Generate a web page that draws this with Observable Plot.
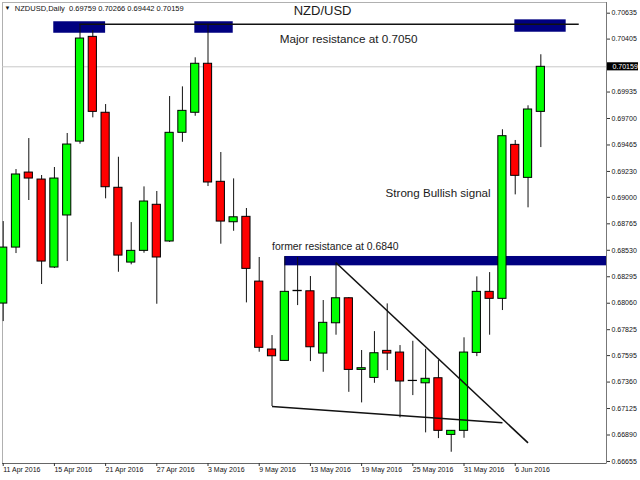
<!DOCTYPE html>
<html><head><meta charset="utf-8">
<script src="https://cdn.jsdelivr.net/npm/d3@7"></script>
<script src="https://cdn.jsdelivr.net/npm/@observablehq/plot@0.6"></script>
<style>body{margin:0;background:#fff;} svg{display:block}</style>
</head><body><div id="chart"></div>
<script>
// Trading days (daily candles)
const dates = ["2016-04-11","2016-04-12","2016-04-13","2016-04-14","2016-04-15",
  "2016-04-18","2016-04-19","2016-04-20","2016-04-21","2016-04-22",
  "2016-04-25","2016-04-26","2016-04-27","2016-04-28","2016-04-29",
  "2016-05-02","2016-05-03","2016-05-04","2016-05-05","2016-05-06",
  "2016-05-09","2016-05-10","2016-05-11","2016-05-12","2016-05-13",
  "2016-05-16","2016-05-17","2016-05-18","2016-05-19","2016-05-20",
  "2016-05-23","2016-05-24","2016-05-25","2016-05-26","2016-05-27",
  "2016-05-30","2016-05-31","2016-06-01","2016-06-02","2016-06-03",
  "2016-06-06","2016-06-07","2016-06-08"];
const opens  = [0.68057,0.68554,0.69220,0.69158,0.68377,0.68839,0.69495,0.70425,0.69751,0.69085,
  0.68421,0.68525,0.68934,0.68608,0.69573,0.69751,0.70186,0.69138,0.68779,0.68827,
  0.68252,0.67649,0.67548,0.68170,0.68166,0.67613,0.67882,0.68104,0.67468,0.67397,
  0.67637,0.67622,0.67371,0.67349,0.67394,0.66891,0.66927,0.67619,0.68161,0.68099,
  0.69466,0.69173,0.69759];
const highs  = [0.68785,0.69247,0.69522,0.69194,0.69265,0.69567,0.70535,0.70481,0.69824,0.69356,
  0.68776,0.69093,0.69052,0.69895,0.69981,0.70239,0.70537,0.69398,0.69164,0.68901,
  0.68466,0.67773,0.68472,0.68466,0.68297,0.68084,0.68419,0.68110,0.67640,0.67808,
  0.68054,0.67684,0.67722,0.67651,0.67551,0.66930,0.67753,0.68294,0.68332,0.69600,
  0.69505,0.69813,0.70266];
const lows   = [0.67897,0.68501,0.68972,0.68226,0.68368,0.68430,0.69472,0.69706,0.68987,0.68335,
  0.68401,0.68504,0.68051,0.68600,0.69489,0.69720,0.69096,0.68584,0.68699,0.68063,
  0.67625,0.67143,0.67545,0.68039,0.67542,0.67447,0.67776,0.67269,0.67175,0.67349,
  0.67462,0.67042,0.67240,0.66909,0.66858,0.66737,0.66861,0.67586,0.67776,0.67995,
  0.69022,0.68907,0.69442];
const closes = [0.68554,0.69203,0.69167,0.68430,0.69167,0.69469,0.70410,0.69759,0.69090,0.68483,
  0.68525,0.68963,0.68466,0.69573,0.69768,0.70186,0.69132,0.68785,0.68823,0.68365,
  0.67664,0.67589,0.68161,0.68167,0.67669,0.67886,0.68104,0.67468,0.67483,0.67616,
  0.67613,0.67365,0.67369,0.67389,0.66927,0.66927,0.67622,0.68161,0.68099,0.69543,
  0.69191,0.69780,0.70159];

// Axis ticks
const yTicks = [0.70635,0.70405,0.69935,0.69700,0.69465,0.69230,0.69000,0.68765,0.68530,
  0.68295,0.68060,0.67825,0.67595,0.67360,0.67125,0.66890,0.66655];
const xTickEvery = 4;

// Annotation levels (price / candle index anchors)
const majorResistance = {price: 0.70537, from: 6, to: 45};
const topZones = [
  {from: 3.95, to: 8.0, lo: 0.70457, hi: 0.70559},
  {from: 14.97, to: 17.97, lo: 0.70457, hi: 0.70559},
  {from: 39.97, to: 43.98, lo: 0.70466, hi: 0.70576}
];
const formerZone = {from: 22.0, lo: 0.68392, hi: 0.68475};
const trendLines = [
  {i1: 26, p1: 0.68419, i2: 41.0, p2: 0.66820, w: 1.6},
  {i1: 21, p1: 0.67143, i2: 39.0, p2: 0.66999, w: 1.3}
];
const title = {i: 24.95, p: 0.70659, text: "NZD/USD"};
const notes = [
  {i: 21.6, p: 0.70401, text: "Major resistance at 0.7050", size: 11.7},
  {i: 29.87, p: 0.69034, text: "Strong Bullish signal", size: 11.6},
  {i: 21.0, p: 0.68566, text: "former resistance at 0.6840", size: 10.4}
];
const symbolLabel = "NZDUSD,Daily";

const candles = dates.map((d, i) => ({i, date: new Date(d), o: opens[i], h: highs[i], l: lows[i], c: closes[i]}));
const upC = candles.filter(d => d.c >= d.o);
const downC = candles.filter(d => d.c < d.o);
const last = candles[candles.length - 1];
const fmtDate = d3.utcFormat("%-d %b %Y");
const xDomain = [-0.055, 47.13];
const yDomain = [0.66637, 0.70730];
const half = 0.32;
const ohlcText = [last.o, last.h, last.l, last.c].map(v => v.toFixed(5)).join(" ");

const bodyOpts = (fill) => ({
  x1: d => d.i - half, x2: d => d.i + half,
  y1: d => Math.min(d.o, d.c), y2: d => Math.max(d.o, d.c),
  fill, stroke: "#000", strokeWidth: 1
});

const chart = Plot.plot({
  width: 640, height: 480,
  marginLeft: 2, marginRight: 34, marginTop: 2, marginBottom: 17,
  x: {type: "linear", domain: xDomain, axis: null},
  y: {type: "linear", domain: yDomain, axis: null},
  style: {fontFamily: "'Liberation Sans', Arial, sans-serif", background: "#fff", overflow: "visible"},
  marks: [
    Plot.frame({stroke: "#b0b0b0"}),
    Plot.ruleY([last.c], {stroke: "#c8c8c8", strokeWidth: 1}),
    Plot.rect([formerZone], {x1: "from", x2: xDomain[1], y1: "lo", y2: "hi", fill: "#000080"}),
    Plot.rect(topZones, {x1: "from", x2: "to", y1: "lo", y2: "hi", fill: "#000080"}),
    Plot.ruleX(candles, {x: "i", y1: "l", y2: "h", stroke: "#111", strokeWidth: 1}),
    Plot.rect(upC, bodyOpts("#00ff00")),
    Plot.rect(downC, bodyOpts("#ff0000")),
    Plot.ruleY([majorResistance], {y: "price", x1: "from", x2: "to", stroke: "#111", strokeWidth: 1.6}),
    Plot.link(trendLines, {x1: "i1", y1: "p1", x2: "i2", y2: "p2", stroke: "#111", strokeWidth: d => d.w}),
    Plot.text(notes, {x: "i", y: "p", text: "text", fontSize: d => d.size, textAnchor: "start", fill: "#1a1a1a"}),
    Plot.text([title], {x: "i", y: "p", text: "text", fontSize: 13, textAnchor: "middle", fill: "#1a1a1a"}),
    Plot.text(["▼"], {frameAnchor: "top-left", dx: 5, dy: 6, fontSize: 6, textAnchor: "middle", lineAnchor: "middle", fill: "#111"}),
    Plot.text([symbolLabel + "  " + ohlcText], {frameAnchor: "top-left", dx: 12.3, dy: 6, fontSize: 7.5, textAnchor: "start", lineAnchor: "middle", fill: "#111"}),
    Plot.ruleY([yDomain[0]], {stroke: "#666"}),
    Plot.ruleX([xDomain[1]], {stroke: "#777"}),
    Plot.axisY({anchor: "right", ticks: yTicks, tickFormat: d3.format(".5f"), tickSize: 3, tickPadding: 2, fontSize: 7, stroke: "#333", fill: "#111"}),
    Plot.axisX({ticks: d3.range(0, dates.length, xTickEvery), tickFormat: i => fmtDate(candles[i].date), tickSize: 3, tickPadding: 1, fontSize: 7, textAnchor: "start", stroke: "#333", fill: "#111"}),
    Plot.rect([last.c], {y1: d => d - 0.00036, y2: d => d + 0.00036, x1: xDomain[1], x2: xDomain[1], insetLeft: 1, insetRight: -32, fill: "#000"}),
    Plot.text([last.c], {y: d => d, x: xDomain[1], dx: 6, text: d => d.toFixed(5), fontSize: 7, textAnchor: "start", fill: "#fff"})
  ]
});
document.getElementById("chart").append(chart);
</script>
</body></html>
